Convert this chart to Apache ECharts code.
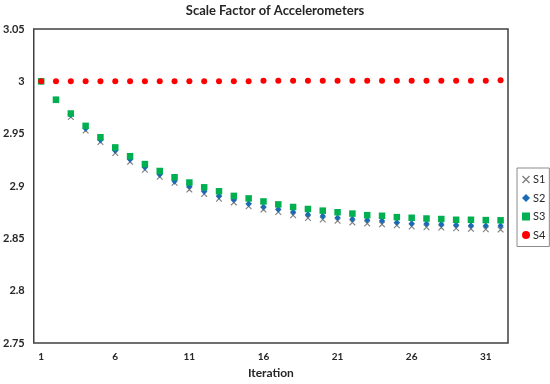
<!DOCTYPE html>
<html>
<head>
<meta charset="utf-8">
<script src="https://cdn.jsdelivr.net/npm/echarts@6/dist/echarts.min.js"></script>
<style>html,body{margin:0;padding:0;background:#fff;}#c{width:550px;height:384px;}</style>
</head>
<body>
<div id="c"></div>
<script>
var iterations = [];
for (var i = 1; i <= 32; i++) iterations.push(String(i));

var s1 = [3.000, 2.982, 2.966, 2.953, 2.942, 2.9316, 2.9231, 2.9156, 2.9088, 2.9032, 2.8966,
  2.8925, 2.8878, 2.8844, 2.8807, 2.8775, 2.8753, 2.8722, 2.8695, 2.8681, 2.8669,
  2.8653, 2.8643, 2.8634, 2.8625, 2.8613, 2.8606, 2.8603, 2.8597, 2.8591, 2.8587, 2.8584];
var s2 = [3.000, 2.9822, 2.968, 2.955, 2.944, 2.934, 2.9255, 2.918, 2.911, 2.9047, 2.8997,
  2.895, 2.8906, 2.8868, 2.8831, 2.880, 2.8778, 2.8753, 2.8728, 2.8713, 2.8697,
  2.8685, 2.8675, 2.8669, 2.8653, 2.8643, 2.8639, 2.8634, 2.8628, 2.8624, 2.8622, 2.862];
var s3 = [3.000, 2.9825, 2.9693, 2.9575, 2.9466, 2.9369, 2.9285, 2.921, 2.9144, 2.9084, 2.9034,
  2.8988, 2.895, 2.8906, 2.8882, 2.8853, 2.8825, 2.880, 2.8781, 2.8765, 2.875,
  2.8737, 2.8722, 2.8716, 2.8703, 2.8697, 2.869, 2.8685, 2.8678, 2.8678, 2.8675, 2.8673];
var s4 = [3.000, 3.000, 3.000, 3.000, 3.000, 3.000, 3.000, 3.000, 3.000, 3.000, 3.000,
  3.000, 3.000, 3.000, 3.000, 3.0006, 3.0006, 3.0006, 3.0006, 3.0006, 3.0006,
  3.0006, 3.0006, 3.0006, 3.0006, 3.0006, 3.0006, 3.0006, 3.0006, 3.0006, 3.0006, 3.001];
var yTicks = [2.75, 2.8, 2.85, 2.9, 2.95, 3, 3.05];

var FONT = 'Lato';
var xPath = 'path://M0,1.2L1.2,0L5,3.8L8.8,0L10,1.2L6.2,5L10,8.8L8.8,10L5,6.2L1.2,10L0,8.8L3.8,5Z';

var chart = echarts.init(document.getElementById('c'), null, {renderer: 'canvas'});
chart.setOption({
  backgroundColor: '#ffffff',
  animation: false,
  title: {
    text: 'Scale Factor of Accelerometers',
    left: 'center',
    top: -1,
    textStyle: {fontFamily: FONT, fontWeight: 'bold', fontSize: 13, color: '#262626'}
  },
  legend: {
    orient: 'vertical',
    left: 517,
    top: 168,
    padding: [6, 4, 6, 5],
    itemGap: 7.5,
    itemWidth: 8,
    itemHeight: 8,
    borderColor: '#8c8c8c',
    borderWidth: 1,
    textStyle: {fontFamily: FONT, fontSize: 11, color: '#262626', padding: [0, 0, 0, -2]},
    data: ['S1', 'S2', 'S3', 'S4']
  },
  grid: {
    left: 32, right: 42, top: 29, bottom: 35,
    show: true, borderColor: '#404040', borderWidth: 1.5, backgroundColor: '#ffffff'
  },
  xAxis: {
    type: 'category',
    data: iterations,
    boundaryGap: true,
    name: 'Iteration',
    nameLocation: 'middle',
    nameGap: 22,
    nameTextStyle: {fontFamily: FONT, fontWeight: 'bold', fontSize: 12, color: '#262626'},
    axisLine: {show: false},
    axisTick: {show: false},
    splitLine: {show: false},
    axisLabel: {interval: 4, margin: 9, fontFamily: FONT, fontWeight: 'bold', fontSize: 10, color: '#262626'}
  },
  yAxis: {
    type: 'value',
    min: yTicks[0],
    max: yTicks[yTicks.length - 1],
    interval: 0.05,
    axisLine: {show: false},
    axisTick: {show: false},
    splitLine: {show: false},
    axisLabel: {
      margin: 9, fontFamily: FONT, fontWeight: 'bold', fontSize: 11, color: '#262626',
      formatter: function (v) { return String(+v.toFixed(2)); }
    }
  },
  series: [
    {name: 'S1', type: 'scatter', data: s1, symbol: xPath, symbolSize: 6.5,
      itemStyle: {color: '#7f7f7f', opacity: 1}},
    {name: 'S2', type: 'scatter', data: s2, symbol: 'diamond', symbolSize: [6, 7],
      itemStyle: {color: '#1a6bb5', opacity: 1}},
    {name: 'S3', type: 'scatter', data: s3, symbol: 'rect', symbolSize: 6.5,
      itemStyle: {color: '#00b050', opacity: 1}},
    {name: 'S4', type: 'scatter', data: s4, symbol: 'circle', symbolSize: 6,
      itemStyle: {color: '#ff0000', opacity: 1}}
  ]
});
</script>
</body>
</html>
